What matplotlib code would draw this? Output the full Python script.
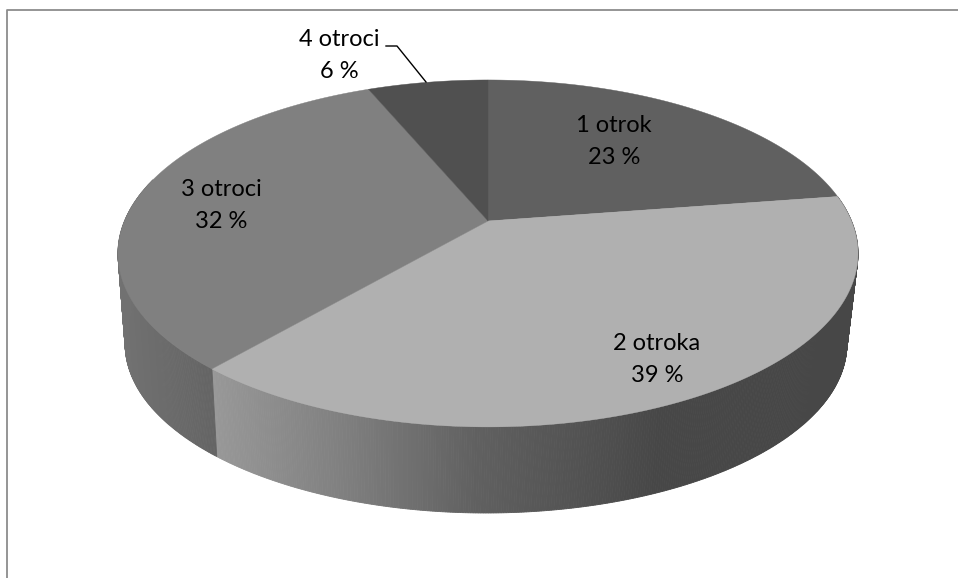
import numpy as np
import matplotlib
matplotlib.use("Agg")
import matplotlib.pyplot as plt

# slices, clockwise from 12 o'clock
labels = ['1 otrok', '2 otroka', '3 otroci', '4 otroci']
pct_labels = ['23 %', '39 %', '32 %', '6 %']
values = [22.6, 38.7, 32.4, 6.3]
top_colors = ['#606060', '#b0b0b0', '#808080', '#505050']

# label centres in pixels
label_x = [614, 657, 221, 339]
label_y = [125, 343, 189, 39]
pct_y = [158, 376, 222, 72]

# shading of the rim, by x pixel
front_x = [213, 340, 478, 600, 660, 860]
front_g = [0x98, 0x80, 0x60, 0x50, 0x47, 0x47]
left_x = [115, 213]
left_g = [0x72, 0x64]


def project(theta, cx, cy, a, b, k=0.187):
    # circle -> ellipse with perspective, so the apex sits above the middle
    t = np.radians(theta)
    u = np.sin(t)
    v = np.cos(t)
    w = 1 + k*v
    return cx + b*u/w, cy - a*v/w


def top_rim(theta):
    return project(theta, 488, 221, 167.4, 363.5)


def bottom_rim(theta):
    return project(theta, 486, 312.5, 163.0, 354.5)


def draw_side(ax, t0, t1, xs, gs):
    angles = np.linspace(t0, t1, int((t1-t0)*3)+2)
    for i in range(len(angles)-1):
        x1, y1 = top_rim(angles[i])
        x2, y2 = top_rim(angles[i+1])
        x3, y3 = bottom_rim(angles[i+1])
        x4, y4 = bottom_rim(angles[i])
        g = np.interp((x1+x2)/2, xs, gs)/255.0
        ax.fill([x1, x2, x3, x4], [y1, y2, y3, y4], color=(g, g, g), lw=0.6)


fig = plt.figure(figsize=(9.58, 5.78), dpi=100)
ax = fig.add_axes([0, 0, 1, 1])
ax.set_xlim(0, 958)
ax.set_ylim(578, 0)
ax.axis('off')

# chart frame, cut off on the right and at the bottom
ax.plot([7.5, 7.5, 958], [578, 9.8, 9.8], color='#8c8c8c', lw=1.3)

edges = np.cumsum([0] + values)*3.6

# rim first, top face goes over it
draw_side(ax, edges[1], edges[2], front_x, front_g)
draw_side(ax, edges[2], 285, left_x, left_g)

for i in range(len(values)):
    th = np.linspace(edges[i], edges[i+1], 200)
    xs, ys = top_rim(th)
    xs = np.concatenate([[488], xs])
    ys = np.concatenate([[221], ys])
    ax.fill(xs, ys, color=top_colors[i], lw=0.3)

# leader line for the small slice
ax.plot([386, 397, 426], [46, 46, 82], color='black', lw=1.0)

for i in range(len(labels)):
    ax.text(label_x[i], label_y[i], labels[i], ha='center', va='center',
            family='Lato', fontsize=17, color='black')
    ax.text(label_x[i], pct_y[i], pct_labels[i], ha='center', va='center',
            family='Lato', fontsize=17, color='black')

fig.savefig('out.png', dpi=100)
